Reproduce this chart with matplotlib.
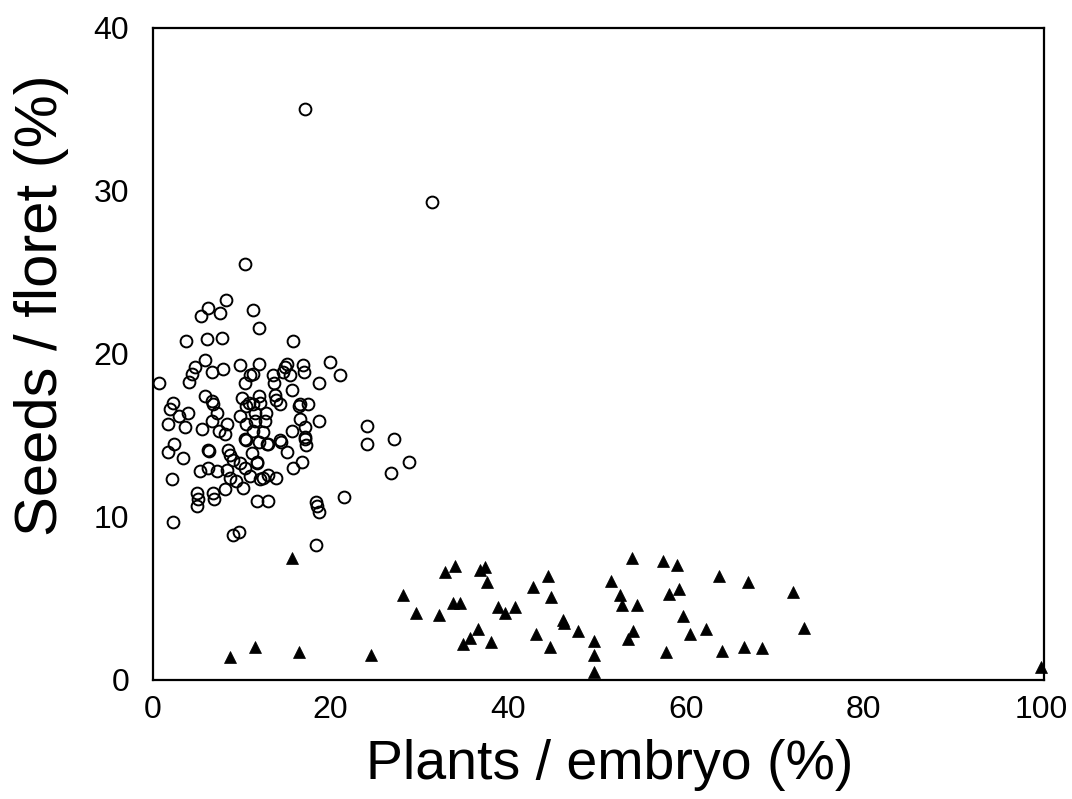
import matplotlib.pyplot as plt
import numpy as np

plt.rcParams['font.family'] = ['Liberation Sans', 'DejaVu Sans']

# Circles: seeds per floret vs plants per embryo (first group)
circ_x = [10.4, 8.2, 6.2, 5.4, 7.5, 11.3, 11.9, 3.7, 6.1, 7.8, 15.8, 5.8, 4.7, 4.4, 4.1,
          6.6, 7.9, 9.8, 11.9, 11.3, 10.9, 10.4, 0.7, 13.5, 13.6, 15.1, 14.9, 14.6, 15.4,
          16.9, 17.0, 19.9, 21.1, 18.7, 13.7, 15.7, 13.9, 14.3, 5.9, 6.6, 6.8, 2.2, 1.9,
          2.9, 3.9, 1.7, 3.6, 7.2, 6.6, 5.5, 7.4, 8.3, 8.1, 9.8, 10.5, 11.3, 11.9, 12.0,
          11.5, 12.7, 10.5, 11.5, 12.6, 11.3, 12.4, 16.5, 17.5, 16.6, 17.1, 18.7, 15.7,
          10.4, 10.5, 13.0, 14.3, 17.1, 17.2, 15.1, 11.9, 6.2, 6.3, 2.4, 1.7, 3.4, 8.5,
          8.7, 9.0, 11.1, 11.7, 9.8, 10.4, 15.8, 16.8, 5.3, 6.2, 7.2, 8.3, 8.7, 9.4, 10.9,
          12.0, 13.0, 13.9, 10.1, 8.1, 2.1, 4.9, 5.1, 4.9, 6.8, 6.9, 11.7, 12.9, 18.4,
          18.5, 18.7, 21.5, 2.3, 9.0, 9.7, 18.4, 17.1, 31.4, 24.1, 24.1, 27.1, 28.8, 26.8,
          16.4, 17.1, 14.4, 12.8, 11.7, 12.4, 10.0, 10.8]
circ_y = [25.5, 23.3, 22.8, 22.3, 22.5, 22.7, 21.6, 20.8, 20.9, 21.0, 20.8, 19.6, 19.2, 18.8, 18.3,
          18.9, 19.1, 19.3, 19.4, 18.8, 18.7, 18.2, 18.2, 18.7, 18.2, 19.4, 19.2, 18.9, 18.7,
          19.3, 18.9, 19.5, 18.7, 18.2, 17.5, 17.8, 17.2, 16.9, 17.4, 17.1, 16.9, 17.0, 16.6,
          16.2, 16.4, 15.7, 15.5, 16.4, 15.9, 15.4, 15.3, 15.7, 15.1, 16.2, 16.8, 16.9, 17.4, 17.0,
          16.4, 16.4, 15.7, 15.9, 15.9, 15.3, 15.2, 16.9, 16.9, 16.0, 15.5, 15.9, 15.3,
          14.8, 14.75, 14.5, 14.7, 14.8, 14.4, 14.0, 14.6, 14.1, 14.05, 14.5, 14.0, 13.6, 14.1,
          13.8, 13.5, 13.9, 13.4, 13.3, 13.0, 13.0, 13.4, 12.8, 13.0, 12.8, 12.9, 12.4, 12.2, 12.5,
          12.3, 12.6, 12.4, 11.8, 11.7, 12.3, 11.5, 11.1, 10.7, 11.5, 11.1, 11.0, 11.0, 10.9,
          10.7, 10.3, 11.2, 9.7, 8.9, 9.1, 8.3, 35.0, 29.3, 15.6, 14.5, 14.8, 13.4, 12.7,
          16.8, 14.9, 14.6, 14.5, 13.3, 12.4, 17.3, 17.0]

# Triangles: second group
tri_x = [15.6, 8.7, 11.5, 16.4, 24.5, 28.2, 29.6, 32.2, 32.9, 34.0, 33.8, 34.6, 36.8, 37.4,
         37.6, 36.6, 35.7, 34.9, 38.1, 38.8, 39.6, 40.7, 42.8, 44.5, 44.8, 43.1, 44.7, 46.1,
         46.3, 47.8, 49.7, 49.7, 49.7, 51.6, 52.6, 52.8, 53.9, 54.5, 54.0, 53.5, 57.4, 59.0,
         58.1, 59.2, 59.7, 60.5, 62.3, 57.7, 63.7, 64.0, 66.5, 67.0, 72.0, 73.3, 68.5, 100.0]
tri_y = [7.5, 1.4, 2.0, 1.7, 1.5, 5.2, 4.1, 4.0, 6.6, 7.0, 4.7, 4.7, 6.75, 6.9,
         6.0, 3.1, 2.6, 2.2, 2.3, 4.5, 4.1, 4.5, 5.7, 6.4, 5.1, 2.8, 2.0, 3.7,
         3.5, 3.0, 2.4, 1.5, 0.5, 6.1, 5.2, 4.6, 7.5, 4.6, 3.0, 2.5, 7.3, 7.05,
         5.3, 5.6, 3.9, 2.8, 3.1, 1.7, 6.4, 1.8, 2.0, 6.0, 5.4, 3.2, 1.95, 0.8]

x_ticks = [0, 20, 40, 60, 80, 100]
y_ticks = [0, 10, 20, 30, 40]

fig = plt.figure(figsize=(10.72, 7.99), dpi=100)
ax = fig.add_axes([0.1427, 0.149, 0.8312, 0.816])

ax.plot(circ_x, circ_y, 'o', ms=8.5, mfc='none', mec='black', mew=1.4, clip_on=False)
ax.plot(tri_x, tri_y, '^', ms=8.5, mfc='black', mec='black', mew=0.5, clip_on=False)

ax.set_xlim(0, 100.3)
ax.set_ylim(0, 40)
ax.set_xticks(x_ticks)
ax.set_yticks(y_ticks)
ax.tick_params(length=0, labelsize=23, pad=11)
ax.tick_params(axis='y', pad=17)
for s in ax.spines.values():
    s.set_linewidth(1.6)

ax.set_xlabel('Plants / embryo (%)', fontsize=40, va='baseline')
ax.xaxis.set_label_coords(0.513, -0.152)
ax.set_ylabel('Seeds / floret (%)', fontsize=43, va='baseline')
ax.yaxis.set_label_coords(-0.108, 0.575)

fig.savefig('out.png', dpi=100)
